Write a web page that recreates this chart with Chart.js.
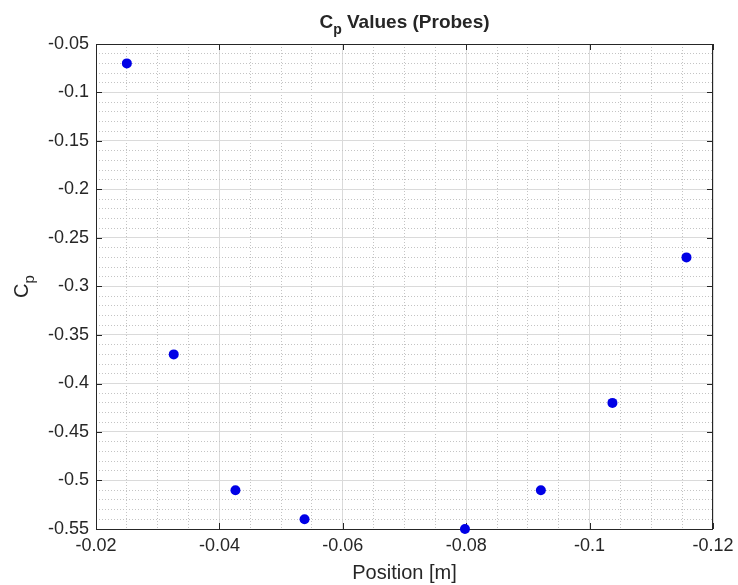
<!DOCTYPE html>
<html>
<head>
<meta charset="utf-8">
<script src="https://cdn.jsdelivr.net/npm/chart.js@4"></script>
<style>
  html, body { margin: 0; padding: 0; background: #ffffff; }
  #wrap { width: 738px; height: 585px; }
</style>
</head>
<body>
<div id="wrap"><canvas id="c" width="738" height="585"></canvas></div>
<script>
// ---- data ----
const positions = [-0.025, -0.0326, -0.0426, -0.0538, -0.0798, -0.0921, -0.1037, -0.1157];
const cpValues  = [-0.07, -0.37, -0.51, -0.54, -0.55, -0.51, -0.42, -0.27];
const xTickValues = [-0.02, -0.04, -0.06, -0.08, -0.1, -0.12];
const yTickValues = [-0.05, -0.1, -0.15, -0.2, -0.25, -0.3, -0.35, -0.4, -0.45, -0.5, -0.55];
const titleMain = 'C';
const titleSub = 'p';
const titleRest = ' Values (Probes)';
const xTitle = 'Position [m]';
const yTitleMain = 'C';
const yTitleSub = 'p';

const FONT = '"Liberation Sans", Arial, Helvetica, sans-serif';
const TEXT = '#262626';

function isMult(v, step) {
  const r = Math.round(v / step) * step;
  return Math.abs(r - v) < 1e-9;
}
function fmt(v) { return String(parseFloat(v.toFixed(4))); }

const points = positions.map((x, i) => ({ x: x, y: cpValues[i] }));

const decor = {
  id: 'decor',
  beforeDatasetsDraw(chart) {
    const { ctx, chartArea: a, scales } = chart;
    ctx.save();
    ctx.strokeStyle = TEXT;
    ctx.lineWidth = 1;
    ctx.strokeRect(Math.round(a.left) + 0.5, Math.round(a.top) + 0.5,
                   Math.round(a.right - a.left) - 1, Math.round(a.bottom - a.top));
    const L = 6;
    ctx.beginPath();
    xTickValues.forEach(v => {
      const px = Math.round(scales.x.getPixelForValue(v)) + 0.5;
      ctx.moveTo(px, a.bottom); ctx.lineTo(px, a.bottom - L);
      ctx.moveTo(px, a.top); ctx.lineTo(px, a.top + L);
    });
    yTickValues.forEach(v => {
      const py = Math.round(scales.y.getPixelForValue(v)) + 0.5;
      ctx.moveTo(a.left, py); ctx.lineTo(a.left + L, py);
      ctx.moveTo(a.right, py); ctx.lineTo(a.right - L, py);
    });
    ctx.stroke();
    ctx.restore();
  },
  afterDraw(chart) {
    const { ctx, chartArea: a } = chart;
    ctx.save();
    ctx.fillStyle = TEXT;
    ctx.textBaseline = 'alphabetic';
    ctx.textAlign = 'left';
    const big = 'bold 19px ' + FONT, small = 'bold 14px ' + FONT;
    ctx.font = big; const w1 = ctx.measureText(titleMain).width;
    ctx.font = small; const w2 = ctx.measureText(titleSub).width;
    ctx.font = big; const w3 = ctx.measureText(titleRest).width;
    const cx = (a.left + a.right) / 2;
    let x0 = cx - (w1 + w2 + w3) / 2;
    const base = 28;
    ctx.font = big; ctx.fillText(titleMain, x0, base);
    ctx.font = small; ctx.fillText(titleSub, x0 + w1, base + 6);
    ctx.font = big; ctx.fillText(titleRest, x0 + w1 + w2, base);
    ctx.font = '20px ' + FONT;
    ctx.textAlign = 'center';
    ctx.fillText(xTitle, cx, 579);
    const yb = '20px ' + FONT, ys = '15px ' + FONT;
    ctx.font = yb; const yw1 = ctx.measureText(yTitleMain).width;
    ctx.font = ys; const yw2 = ctx.measureText(yTitleSub).width;
    const cy = (a.top + a.bottom) / 2;
    ctx.translate(28, cy);
    ctx.rotate(-Math.PI / 2);
    ctx.textAlign = 'left';
    const sx = -(yw1 + yw2) / 2;
    ctx.font = yb; ctx.fillText(yTitleMain, sx, 0);
    ctx.font = ys; ctx.fillText(yTitleSub, sx + yw1, 6);
    ctx.restore();
  }
};

new Chart(document.getElementById('c'), {
  type: 'scatter',
  data: {
    datasets: [{
      data: points,
      pointRadius: 5,
      pointHoverRadius: 5,
      pointBackgroundColor: '#0000e6',
      pointBorderColor: '#0000e6',
      pointBorderWidth: 0,
      showLine: false,
      clip: false
    }]
  },
  options: {
    responsive: false,
    animation: false,
    devicePixelRatio: 1,
    layout: { padding: { top: 44, right: 25, left: 0, bottom: 0 } },
    plugins: { legend: { display: false }, title: { display: false }, tooltip: { enabled: false } },
    scales: {
      x: {
        type: 'linear', position: 'bottom', reverse: true,
        min: -0.12, max: -0.02,
        afterBuildTicks: s => { s.ticks = xTickValues.map(v => ({ value: v })); },
        ticks: { autoSkip: false, maxRotation: 0, padding: 6, color: TEXT,
                 font: { family: FONT, size: 18 }, callback: v => fmt(v) },
        grid: { color: '#dadada', lineWidth: 1, drawTicks: false },
        border: { display: false },
        afterFit: s => { s.height = 56; s.paddingLeft = 0; s.paddingRight = 0; }
      },
      x2: {
        type: 'linear', position: 'bottom', reverse: true,
        min: -0.12, max: -0.02,
        ticks: { display: false, stepSize: 0.005, autoSkip: false },
        grid: { color: ctx => isMult(ctx.tick.value, 0.02) ? 'rgba(0,0,0,0)' : '#c4c4c4',
                lineWidth: 1, drawTicks: false },
        border: { display: false, dash: [1, 2] },
        afterFit: s => { s.height = 0; s.paddingLeft = 0; s.paddingRight = 0; }
      },
      y: {
        type: 'linear', position: 'left',
        min: -0.55, max: -0.05,
        afterBuildTicks: s => { s.ticks = yTickValues.map(v => ({ value: v })); },
        ticks: { autoSkip: false, padding: 7, color: TEXT,
                 font: { family: FONT, size: 18 }, callback: v => fmt(v) },
        grid: { color: '#dadada', lineWidth: 1, drawTicks: false },
        border: { display: false },
        afterFit: s => { s.width = 96; s.paddingTop = 0; s.paddingBottom = 0; }
      },
      y2: {
        type: 'linear', position: 'left',
        min: -0.55, max: -0.05,
        ticks: { display: false, stepSize: 0.01, autoSkip: false },
        grid: { color: ctx => isMult(ctx.tick.value, 0.05) ? 'rgba(0,0,0,0)' : '#c4c4c4',
                lineWidth: 1, drawTicks: false },
        border: { display: false, dash: [1, 2] },
        afterFit: s => { s.width = 0; s.paddingTop = 0; s.paddingBottom = 0; }
      }
    }
  },
  plugins: [decor]
});
</script>
</body>
</html>
